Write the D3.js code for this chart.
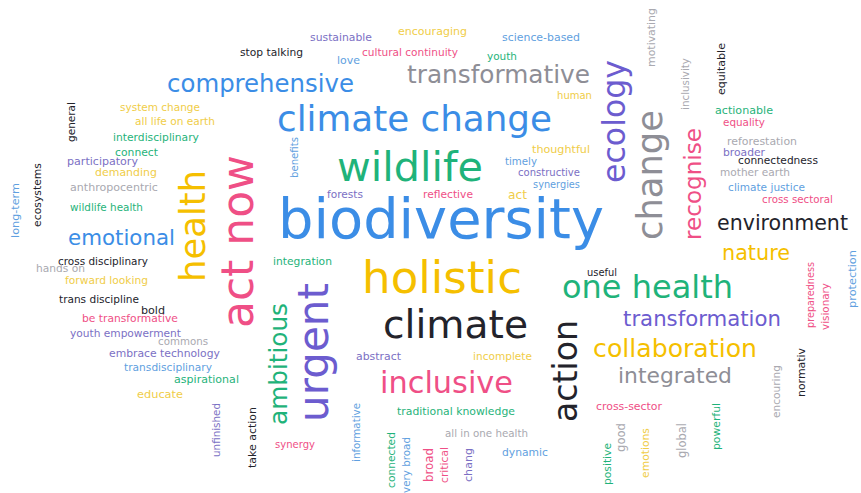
<!DOCTYPE html>
<html lang="en">
<head>
<meta charset="utf-8">
<title>Word cloud</title>
<script src="https://cdn.jsdelivr.net/npm/d3@7"></script>
<style>
  body { margin: 0; background: #fff; }
  svg { display: block; }
</style>
</head>
<body>
<script>

// words, in drawing order
var words = [
	"biodiversity", "climate change", "wildlife", "holistic", "climate", "inclusive", "one health",
	"transformative", "comprehensive", "emotional", "environment", "nature", "transformation",
	"collaboration", "integrated",
	"act now", "health", "urgent", "ambitious", "action", "ecology", "change", "recognise",
	"stop talking", "sustainable", "encouraging", "science-based", "cultural continuity", "love",
	"youth", "human", "thoughtful", "timely", "constructive", "synergies", "forests", "reflective",
	"act", "actionable", "equality", "reforestation", "broader", "connectedness", "mother earth",
	"climate justice", "cross sectoral", "system change", "all life on earth", "interdisciplinary",
	"connect", "participatory", "demanding", "anthropocentric", "wildlife health", "cross disciplinary",
	"hands on", "forward looking", "trans discipline", "bold", "be transformative", "youth empowerment",
	"commons", "embrace technology", "transdisciplinary", "aspirational", "educate", "synergy",
	"integration", "abstract", "incomplete", "traditional knowledge", "all in one health", "dynamic",
	"useful", "cross-sector",
	"motivating", "inclusivity", "equitable", "general", "long-term", "ecosystems", "benefits",
	"unfinished", "take action", "informative", "connected", "very broad", "broad", "critical", "chang",
	"preparedness", "visionary", "protection", "normativ", "encouring", "powerful", "global",
	"emotions", "good", "positive"
];

// colour group of each word
var tones = [
	"blue", "blue", "green", "yellow", "dark", "pink", "green",
	"gray", "blue", "blue", "dark", "yellow", "purple",
	"yellow", "gray",
	"pink", "yellow", "purple", "green", "dark", "purple", "gray", "pink",
	"dark", "lpurple", "lyellow", "lblue", "pink", "lblue",
	"green", "lyellow", "lyellow", "lblue", "lpurple", "lblue", "lpurple", "pink",
	"lyellow", "green", "pink", "lgray", "lpurple", "dark", "lgray",
	"lblue", "pink", "lyellow", "lyellow", "green",
	"green", "lpurple", "lyellow", "lgray", "green", "dark",
	"lgray", "lyellow", "dark", "dark", "pink", "lpurple",
	"lgray", "lpurple", "lblue", "green", "lyellow", "pink",
	"green", "lpurple", "lyellow", "green", "lgray", "lblue",
	"dark", "pink",
	"lgray", "lgray", "dark", "dark", "lblue", "dark", "lblue",
	"lpurple", "dark", "lblue", "green", "lblue", "pink", "pink", "lpurple",
	"pink", "pink", "lblue", "dark", "lgray", "green", "lgray",
	"lyellow", "lgray", "green"
];

// words set upright (read bottom to top)
var upright = [
	"act now", "health", "urgent", "ambitious", "action", "ecology", "change", "recognise",
	"motivating", "inclusivity", "equitable", "general", "long-term", "ecosystems", "benefits",
	"unfinished", "take action", "informative", "connected", "very broad", "broad", "critical", "chang",
	"preparedness", "visionary", "protection", "normativ", "encouring", "powerful", "global",
	"emotions", "good", "positive"
];

var toneKeys = ["blue", "lblue", "green", "yellow", "lyellow", "pink", "purple", "lpurple", "dark", "gray", "lgray"];
var toneColors = ["#3b8de6", "#5f9fe0", "#1fb37a", "#f5bf00", "#f0cd48", "#ef4f86", "#6c5ccf", "#7b70c4", "#23232b", "#8e8e96", "#a9a9b0"];

// cloud layout: centre x, centre y, length along the reading direction
var placement = [
	[441, 222, 326], [414.5, 121, 275], [410, 169, 146], [442, 280, 160], [455.5, 327, 145], [446.5, 384, 133], [647.5, 289, 171],
	[498.5, 76, 183], [260.5, 85, 187], [121.5, 239, 107], [782.5, 224, 131], [756, 254, 68], [702, 320, 158],
	[675, 350, 164], [675, 377, 114],
	[241, 241.5, 173], [195.5, 226, 112], [316, 352.5, 139], [280, 364, 122], [568, 371, 102], [616, 121.5, 123], [652, 175, 130], [695, 184, 112],
	[271.5, 53, 63], [341, 38, 62], [432.5, 32, 69], [541, 38, 78], [410, 53, 96], [348.5, 61, 23],
	[502, 57, 30], [574.5, 96, 35], [561, 150, 58], [521, 162, 32], [549, 173, 62], [556.5, 185, 47], [345, 195, 36], [448, 195, 50],
	[517.5, 196, 19], [744, 111, 58], [744, 123, 42], [762, 142, 70], [744, 153, 42], [778, 161, 80], [755, 173, 70],
	[766.5, 188, 77], [797.5, 200, 71], [160, 108, 80], [175, 122, 80], [156, 138, 86],
	[136.5, 153, 43], [102.5, 162, 71], [126, 173, 62], [114, 188, 88], [106.5, 208, 73], [103, 262, 90],
	[60.5, 269, 49], [106.5, 281, 83], [99, 300, 80], [153, 311, 24], [130, 319, 96], [125.5, 334, 111],
	[183, 342, 50], [164.5, 354, 111], [168, 368, 88], [206.5, 380, 65], [160, 395, 46], [295, 445, 40],
	[302.5, 262, 59], [378.5, 357, 45], [502.5, 357, 59], [456, 412, 118], [486.5, 434, 83], [525, 453, 46],
	[602, 273, 30], [629, 407, 66],
	[652, 37.5, 59], [686, 84, 52], [722, 69, 52], [72, 122, 40], [16, 210.5, 55], [38, 195, 64], [295, 157.5, 41],
	[217, 430, 54], [253, 437.5, 61], [357, 432.5, 59], [392, 460, 56], [407, 465, 56], [430, 465, 34], [445, 465, 36], [469, 465, 34],
	[811, 295, 66], [826, 306.5, 47], [853, 279, 58], [802, 372.5, 49], [777, 391.5, 53], [717, 426.5, 47], [683, 440.5, 35],
	[646, 453, 50], [622, 437.5, 29], [608, 464, 42]
];

var width = 861, height = 493;

var x = d3.scaleLinear().domain([0, 861]).range([0, width]);
var y = d3.scaleLinear().domain([0, 493]).range([0, height]);
var tone = d3.scaleOrdinal().domain(toneKeys).range(toneColors);

var svg = d3.select("body").append("svg")
	.attr("width", width)
	.attr("height", height);

var data = words.map(function(w, i) {
	return {text: w, tone: tones[i], turn: upright.indexOf(w) >= 0 ? -90 : 0, p: placement[i]};
});

// size each word so it fills its slot in the layout
svg.selectAll("text.word").data(data)
	.join("text")
		.attr("class", "word")
		.attr("font-family", "'DejaVu Sans', sans-serif")
		.attr("text-anchor", "middle")
		.attr("font-size", 100)
		.attr("fill", function(d) { return tone(d.tone); })
		.text(function(d) { return d.text; })
		.each(function(d) {
			var span = d.turn ? y(d.p[2]) - y(0) : x(d.p[2]) - x(0);
			d.size = 100 * span / this.getComputedTextLength();
		})
		.attr("font-size", function(d) { return d.size; })
		.attr("dy", "0.28em")
		.attr("transform", function(d) {
			return "translate(" + x(d.p[0]) + "," + y(d.p[1]) + ") rotate(" + d.turn + ")";
		});

</script>
</body>
</html>
